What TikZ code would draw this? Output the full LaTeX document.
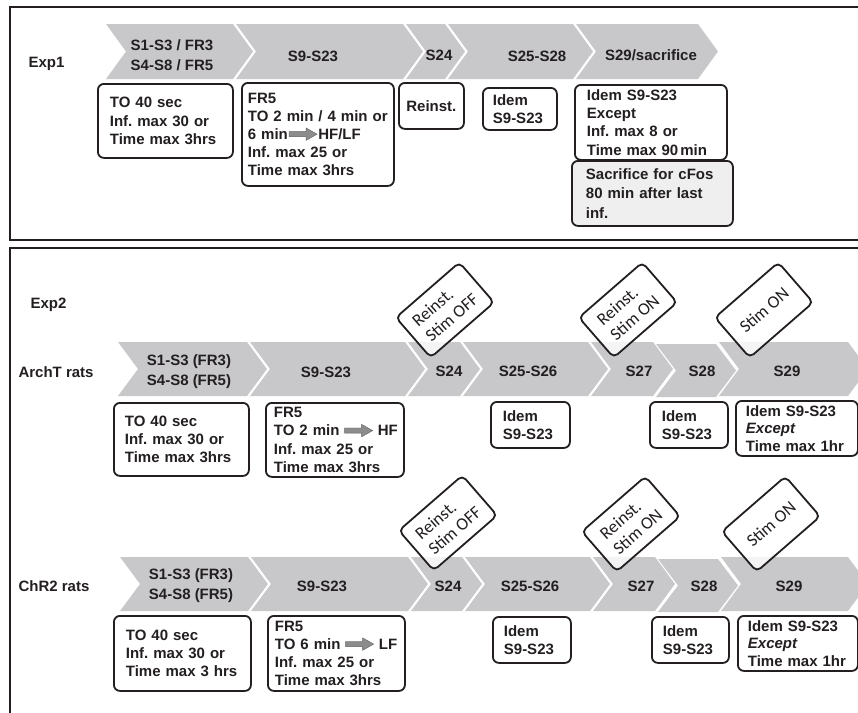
\documentclass[tikz,border=0pt]{standalone}
\usepackage{fontspec}
\setmainfont{Liberation Sans}
\newfontfamily\calfont{Carlito}
\frenchspacing

\definecolor{ink}{HTML}{231F20}
\definecolor{chevgray}{HTML}{C8C8CA}
\definecolor{sacgray}{HTML}{EFEFEF}
\definecolor{arrowgray}{HTML}{8C8C8C}

\tikzset{
  panelframe/.style={draw=ink, line width=2.2},
  phaselabel/.style={text=ink, align=center, font=\bfseries\fontsize{15}{20}\selectfont},
  rowlabel/.style={anchor=west, text=ink, font=\bfseries\fontsize{15}{18}\selectfont},
  infobox/.style={draw=ink, line width=1.8, rounded corners=6, fill=white, anchor=north west,
    align=left, inner ysep=2, text=ink, font=\bfseries\fontsize{15}{18.2}\selectfont},
  turnbox/.style={draw=ink, line width=1.8, rounded corners=5, fill=white, fill opacity=0.8,
    text opacity=1, rotate=41, minimum width=84, minimum height=53, align=left, inner sep=1,
    text=ink, font=\calfont\fontsize{17.5}{20}\selectfont}
}

% chevron: left x, right x (top corner), top y, bottom y
\newcommand{\phasechev}[4]{%
  \fill[chevgray] (#1,#3) -- (#2,#3) -- ({#2+20},{(#3+#4)/2}) -- (#2,#4) -- (#1,#4)
    -- ({#1+20},{(#3+#4)/2}) -- cycle;}

% grey block arrow inside the text
\newcommand{\fatarrow}{\tikz[baseline=-5.3pt, x=1pt, y=1pt, sharp corners]
  \draw[draw=arrowgray!70!black, fill=arrowgray, line width=0.4]
  (0,-2.6) -- (17,-2.6) -- (17,-6.2) -- (28,0) -- (17,6.2) -- (17,2.6) -- (0,2.6) -- cycle;}

\begin{document}
\begin{tikzpicture}[x=1pt, y=-1pt]
\useasboundingbox (0,0) rectangle (858,712);
\clip (0,0) rectangle (858,712);

% panels
\draw[panelframe] (10,7) rectangle (880,240);
\draw[panelframe] (10,248) rectangle (880,740);

% ---------- Exp1 ----------
\node[rowlabel] (exp1) at (25,64) {Exp1};

\phasechev{106}{233}{24}{79}
\phasechev{236}{403}{24}{79}
\phasechev{406}{445}{24}{79}
\phasechev{448}{573}{24}{79}
\phasechev{576}{698}{24}{79}

\node[phaselabel] (e1s1) at (172,55) {S1-S3 / FR3\\S4-S8 / FR5};
\node[phaselabel] (e1s2) at (313,56) {S9-S23};
\node[phaselabel] (e1s3) at (439,55) {S24};
\node[phaselabel] (e1s4) at (537,56) {S25-S28};
\node[phaselabel] (e1s5) at (651,55) {S29/sacrifice};

\node[infobox, minimum width=135, minimum height=74, inner xsep=12, text width=111] (e1b1) at (97,83)
  {TO 40 sec\\Inf. max 30 or\\Time max 3hrs};
\node[infobox, minimum width=152, minimum height=103, inner xsep=6, text width=140] (e1b2) at (241,82)
  {FR5\\TO 2 min / 4 min or\\6~min\kern1pt\fatarrow\kern1pt HF/LF\\Inf. max 25 or\\Time max 3hrs};
\node[infobox, minimum width=65, minimum height=46, inner xsep=5, text width=55, align=center] (e1b3) at (398,82)
  {Reinst.};
\node[infobox, minimum width=74, minimum height=42, inner xsep=10, text width=54] (e1b4) at (482,87)
  {Idem\\S9-S23};
\node[infobox, minimum width=152, minimum height=75, inner xsep=12, text width=128] (e1b5) at (574,84)
  {Idem S9-S23\\Except\\Inf. max 8 or\\Time max 90\kern2pt min};
\node[infobox, fill=sacgray, minimum width=161, minimum height=65, inner xsep=14, text width=133,
  font=\bfseries\fontsize{15}{19.5}\selectfont] (e1b6) at (571,160)
  {Sacrifice for cFos\\80 min after last\\inf.};

% ---------- Exp2 ----------
\node[rowlabel] (exp2) at (27,305) {Exp2};

% ArchT rats
\node[rowlabel] (archt) at (15,372) {ArchT rats};

\phasechev{118}{247}{342}{396}
\phasechev{250}{405}{342}{396}
\phasechev{408}{460}{342}{396}
\phasechev{463}{588}{342}{396}
\phasechev{591}{653}{342}{396}
\phasechev{656}{716}{344}{397}
\phasechev{719}{848}{342}{396}

\node[phaselabel] (as1) at (189,372) {S1-S3 (FR3)\\S4-S8 (FR5)};
\node[phaselabel] (as2) at (326,372) {S9-S23};
\node[phaselabel] (as3) at (449,371) {S24};
\node[phaselabel] (as4) at (528,371) {S25-S26};
\node[phaselabel] (as5) at (639,371) {S27};
\node[phaselabel] (as6) at (702,371) {S28};
\node[phaselabel] (as7) at (787,371) {S29};

\node[turnbox] (at24) at (445,310) {Reinst.\\Stim OFF};
\node[turnbox] (at27) at (628,310) {Reinst.\\Stim ON};
\node[turnbox] (at29) at (764,310) {Stim ON};

\node[infobox, minimum width=135, minimum height=73, inner xsep=11, text width=113] (ab1) at (113,402)
  {TO 40 sec\\Inf. max 30 or\\Time max 3hrs};
\node[infobox, minimum width=138, minimum height=74, inner xsep=8, text width=122] (ab2) at (265,402)
  {FR5\\TO~2~min~\fatarrow~HF\\Inf. max 25 or\\Time max 3hrs};
\node[infobox, minimum width=79, minimum height=46, inner xsep=12, text width=55] (ab3) at (490,401)
  {Idem\\S9-S23};
\node[infobox, minimum width=78, minimum height=46, inner xsep=12, text width=54] (ab4) at (649,401)
  {Idem\\S9-S23};
\node[infobox, minimum width=122, minimum height=55, inner xsep=10, text width=102,
  font=\bfseries\fontsize{15}{17.5}\selectfont] (ab5) at (735,400)
  {Idem S9-S23\\{\itshape Except}\\Time max 1hr};

% ChR2 rats
\node[rowlabel] (chr2) at (15,586) {ChR2 rats};

\phasechev{120}{248}{557}{611}
\phasechev{251}{408}{557}{611}
\phasechev{411}{462}{557}{611}
\phasechev{465}{590}{557}{611}
\phasechev{593}{655}{557}{611}
\phasechev{658}{718}{559}{612}
\phasechev{721}{848}{557}{611}

\node[phaselabel] (cs1) at (191,586) {S1-S3 (FR3)\\S4-S8 (FR5)};
\node[phaselabel] (cs2) at (322,586) {S9-S23};
\node[phaselabel] (cs3) at (448,586) {S24};
\node[phaselabel] (cs4) at (530,586) {S25-S26};
\node[phaselabel] (cs5) at (641,586) {S27};
\node[phaselabel] (cs6) at (704,586) {S28};
\node[phaselabel] (cs7) at (789,586) {S29};

\node[turnbox] (ct24) at (448,523) {Reinst.\\Stim OFF};
\node[turnbox] (ct27) at (631,524) {Reinst.\\Stim ON};
\node[turnbox] (ct29) at (771,524) {Stim ON};

\node[infobox, minimum width=137, minimum height=75, inner xsep=12, text width=113] (cb1) at (113,615)
  {TO 40 sec\\Inf. max 30 or\\Time max 3 hrs};
\node[infobox, minimum width=137, minimum height=75, inner xsep=7, text width=123] (cb2) at (267,615)
  {FR5\\TO~6~min~\fatarrow~LF\\Inf. max 25 or\\Time max 3hrs};
\node[infobox, minimum width=78, minimum height=46, inner xsep=11, text width=56] (cb3) at (492,616)
  {Idem\\S9-S23};
\node[infobox, minimum width=77, minimum height=46, inner xsep=11, text width=55] (cb4) at (651,616)
  {Idem\\S9-S23};
\node[infobox, minimum width=120, minimum height=55, inner xsep=10, text width=100,
  font=\bfseries\fontsize{15}{17.5}\selectfont] (cb5) at (737,615)
  {Idem S9-S23\\{\itshape Except}\\Time max 1hr};
\end{tikzpicture}
\end{document}
